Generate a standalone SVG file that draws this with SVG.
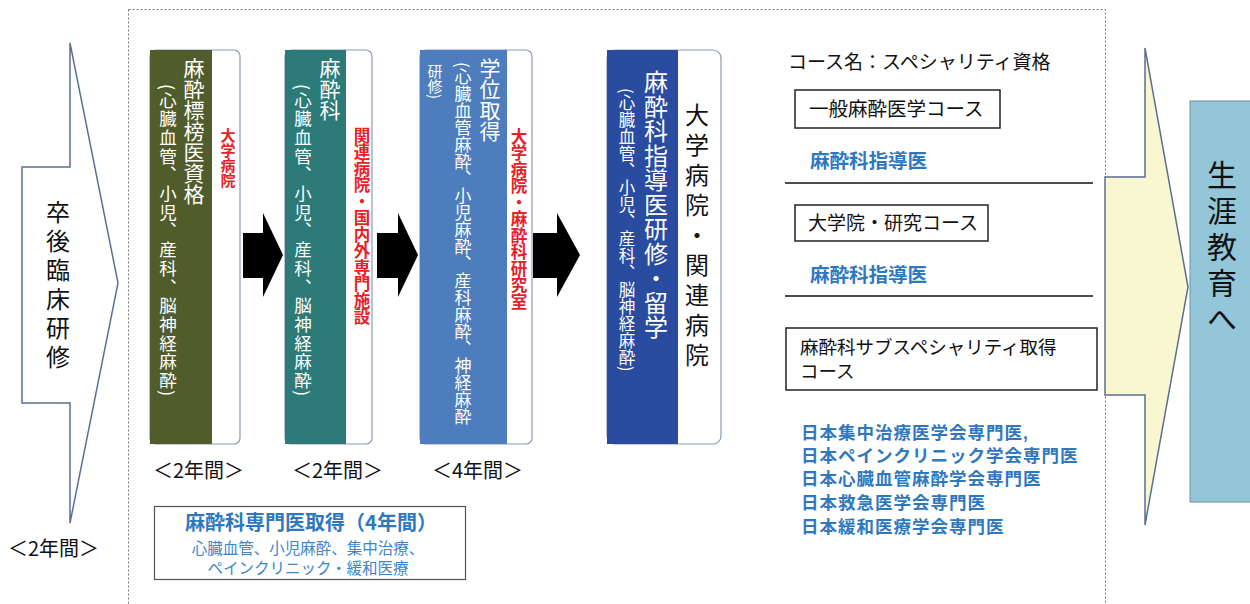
<svg xmlns="http://www.w3.org/2000/svg" width="1250" height="604" viewBox="0 0 1250 604">
<style>
text{font-family:"Noto Sans CJK JP","Noto Sans",sans-serif;}
.v{writing-mode:vertical-rl;text-orientation:mixed;}
.wt{fill:#fff;}
.red{fill:#e8202a;font-weight:bold;}
.blk{fill:#111;}
.blue{fill:#2f78c0;font-weight:bold;}
.lst{font-family:"Liberation Sans","Noto Sans CJK JP",sans-serif;font-size:17.5px;letter-spacing:1px;}
.lblue{fill:#3b86cc;}
.card{fill:#fff;stroke:#8c9cb4;stroke-width:1.2;}
.box{fill:#fff;stroke:#222;stroke-width:1.5;}
.arr{fill:#000;}
.big{stroke:#5a6f94;stroke-width:1.5;}
.yr{fill:#111;font-size:20px;}
</style>
<rect width="1250" height="604" fill="#fff"/>
<rect x="128.5" y="9.5" width="977" height="600" fill="none" stroke="#777" stroke-width="1" stroke-dasharray="2,2"/>

<g id="left-arrow">
<polygon class="big" fill="#fff" points="70,43 70,167 22,167 22,403 70,403 70,523 118,283"/>
<text class="v blk" x="58" y="200" font-size="24" letter-spacing="5">卒後臨床研修</text>
<text class="yr" x="8" y="556">＜2年間＞</text>
</g>

<g id="col1">
<rect class="card" x="150" y="50" width="90" height="394" rx="6"/>
<rect x="150" y="50" width="62" height="394" fill="#515c2c"/>
<text class="v wt" x="194" y="58" font-size="21">麻酔標榜医資格</text>
<text class="v wt" x="168" y="84" font-size="17.5" letter-spacing="1.2">(心臓血管、小児、産科、脳神経麻酔)</text>
<text class="v red" x="228" y="128" font-size="15">大学病院</text>
<text class="yr" x="153" y="478">＜2年間＞</text>
</g>

<g id="col2">
<rect class="card" x="285" y="50" width="87" height="394" rx="6"/>
<rect x="285" y="50" width="61" height="394" fill="#2c7b79"/>
<text class="v wt" x="330" y="58" font-size="21">麻酔科</text>
<text class="v wt" x="303" y="84" font-size="17.5" letter-spacing="1.2">(心臓血管、小児、産科、脳神経麻酔)</text>
<text class="v red" x="362" y="127" font-size="16.5">関連病院・国内外専門施設</text>
<text class="yr" x="292" y="478">＜2年間＞</text>
</g>

<g id="col3">
<rect class="card" x="420" y="50" width="112" height="394" rx="6"/>
<rect x="420" y="50" width="87" height="394" fill="#4d7dbd"/>
<text class="v wt" x="490" y="58" font-size="21">学位取得</text>
<text class="v wt" x="463" y="62" font-size="17">(心臓血管麻酔、小児麻酔、産科麻酔、神経麻酔</text>
<text class="v wt" x="435" y="64" font-size="15">研修)</text>
<text class="v red" x="519" y="128" font-size="16.5">大学病院・麻酔科研究室</text>
<text class="yr" x="432" y="478">＜4年間＞</text>
</g>

<g id="col4">
<rect class="card" x="607" y="50" width="114" height="394" rx="8"/>
<rect x="607" y="50" width="71" height="394" fill="#294ba0"/>
<text class="v wt" x="656" y="70" font-size="24" letter-spacing="0.5">麻酔科指導医研修・留学</text>
<text class="v wt" x="627" y="88" font-size="16.5" letter-spacing="0.5">(心臓血管、小児、産科、脳神経麻酔)</text>
<text class="v blk" x="697" y="103" font-size="24" letter-spacing="6">大学病院・関連病院</text>
</g>

<g id="connectors">
<polygon class="arr" points="243,233 263,233 263,213 283,255 263,297 263,278 243,278"/>
<polygon class="arr" points="377,233 398,233 398,213 418,255 398,297 398,278 377,278"/>
<polygon class="arr" points="533,233 557,233 557,213 580,255 557,297 557,278 533,278"/>
</g>

<g id="specialist-box">
<rect x="154.5" y="506.5" width="311" height="73" fill="#fff" stroke="#555" stroke-width="1.2"/>
<text class="blue" x="311" y="530" font-size="20" text-anchor="middle">麻酔科専門医取得（4年間）</text>
<text class="lblue" x="308" y="554" font-size="15.5" text-anchor="middle">心臓血管、小児麻酔、集中治療、</text>
<text class="lblue" x="308" y="574" font-size="15.5" text-anchor="middle">ペインクリニック・緩和医療</text>
</g>

<g id="courses">
<text class="blk" x="788" y="69" font-size="19">コース名：スペシャリティ資格</text>
<rect class="box" x="795" y="90" width="205" height="38"/>
<text class="blk" x="809" y="116" font-size="19.5">一般麻酔医学コース</text>
<text class="blue" x="810" y="168" font-size="19.5">麻酔科指導医</text>
<line x1="785" y1="183" x2="1093" y2="183" stroke="#111" stroke-width="1.5"/>
<rect class="box" x="795" y="205" width="193" height="36"/>
<text class="blk" x="808" y="230" font-size="19">大学院・研究コース</text>
<text class="blue" x="810" y="282" font-size="19.5">麻酔科指導医</text>
<line x1="785" y1="296" x2="1093" y2="296" stroke="#111" stroke-width="1.5"/>
<rect class="box" x="786" y="328" width="311" height="62"/>
<text class="blk" x="800" y="354" font-size="18.5">麻酔科サブスペシャリティ取得</text>
<text class="blk" x="800" y="378" font-size="18.5">コース</text>
<text class="blue lst" x="801" y="439">日本集中治療医学会専門医,</text>
<text class="blue lst" x="801" y="462">日本ペインクリニック学会専門医</text>
<text class="blue lst" x="801" y="485">日本心臓血管麻酔学会専門医</text>
<text class="blue lst" x="801" y="509">日本救急医学会専門医</text>
<text class="blue lst" x="801" y="533">日本緩和医療学会専門医</text>
</g>

<g id="right-arrow">
<polygon class="big" fill="#f9f7cf" points="1105,177 1145,177 1145,48 1188,287 1145,525 1145,395 1105,395"/>
</g>

<g id="lifelong">
<rect x="1190" y="101" width="62" height="401" fill="#93c6d8" stroke="#6f8fa6" stroke-width="1"/>
<text class="v blk" x="1222" y="160" font-size="30" letter-spacing="6">生涯教育へ</text>
</g>
</svg>
